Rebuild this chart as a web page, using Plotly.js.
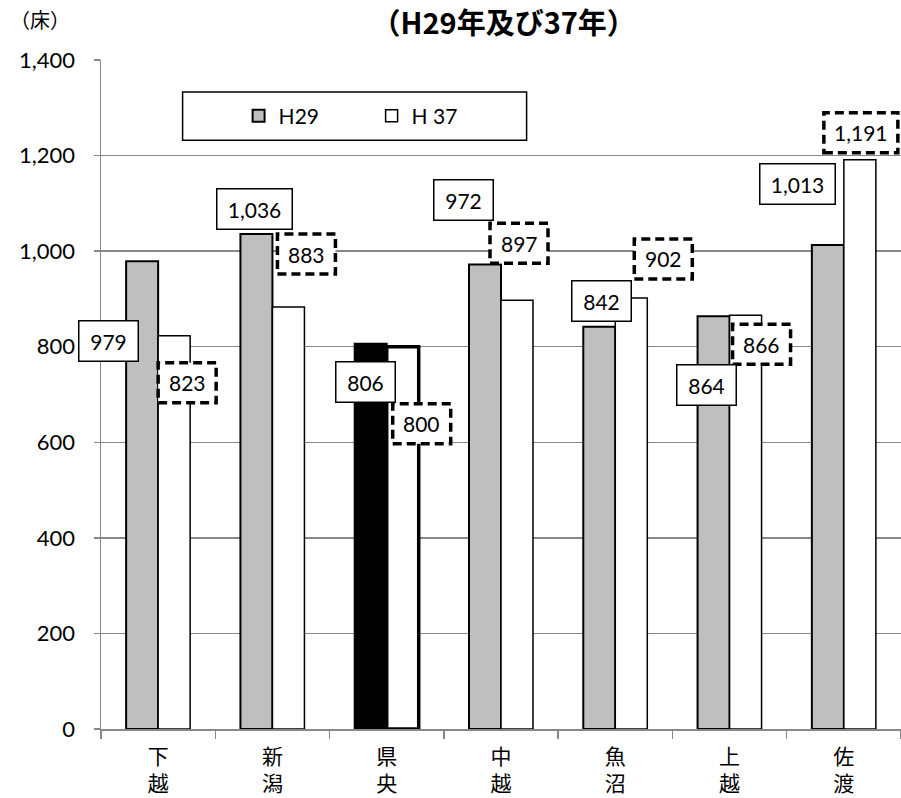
<!DOCTYPE html>
<html><head><meta charset="utf-8">
<script src="https://cdn.plot.ly/plotly-3.0.1.min.js"></script>
<style>body{margin:0;background:#fff}#c{width:901px;height:798px}</style>
</head><body><div id="c"></div>
<script>
const categories = ['下越','新潟','県央','中越','魚沼','上越','佐渡'];
const tickLabels = ['下<br>越','新<br>潟','県<br>央','中<br>越','魚<br>沼','上<br>越','佐<br>渡'];
const h29 = [979, 1036, 806, 972, 842, 864, 1013];
const h37 = [823, 883, 800, 897, 902, 866, 1191];
const yTicks = [0,200,400,600,800,1000,1200,1400];

// label placement (pixel offsets from category centre / value point) — styling only
const h29Off = [[-50,-80],[-18,25],[-21,-38],[-38,65],[-14,26],[-23,-69],[-46,61]];
const h37Off = [[29,-47],[34,53],[35,-77],[18,57],[48,39],[32,-29],[17,27]];

const fmt = v => v.toLocaleString('en-US');
const numFont = {family:'Lato, "Open Sans", sans-serif', size:21, color:'#000'};

const h29Colors = categories.map(c => c==='県央' ? '#000000' : '#bfbfbf');
const h37Widths = categories.map(c => c==='県央' ? 3.5 : 1.5);

const traces = [
  {type:'bar', name:'H29', x:categories, y:h29,
   marker:{color:h29Colors, line:{color:'#000', width:2}}, hoverinfo:'skip'},
  {type:'bar', name:'H 37', x:categories, y:h37,
   marker:{color:'#ffffff', line:{color:'#000', width:h37Widths}}, hoverinfo:'skip'}
];

const annotations = [];
const shapes = [];
const boxW = t => t.length > 3 ? 74 : 58;
categories.forEach((c,i) => {
  const t1 = fmt(h29[i]);
  annotations.push({x:c, y:h29[i], xref:'x', yref:'y', text:t1, showarrow:false,
    xanchor:'center', yanchor:'middle',
    xshift:h29Off[i][0], yshift:h29Off[i][1], font:numFont,
    bgcolor:'#fff', bordercolor:'#000', borderwidth:1.5, borderpad:0,
    width:boxW(t1), height:39});
  const t2 = fmt(h37[i]);
  const w = boxW(t2), hgt = 40;
  shapes.push({type:'rect', xref:'x', yref:'y', xsizemode:'pixel', ysizemode:'pixel',
    xanchor:c, yanchor:h37[i],
    x0:h37Off[i][0]-w/2, x1:h37Off[i][0]+w/2,
    y0:h37Off[i][1]-hgt/2, y1:h37Off[i][1]+hgt/2,
    fillcolor:'#fff', line:{color:'#000', width:3.5, dash:'9px,5px'}, layer:'above'});
  annotations.push({x:c, y:h37[i], xref:'x', yref:'y', text:t2, showarrow:false,
    xanchor:'center', yanchor:'middle',
    xshift:h37Off[i][0], yshift:h37Off[i][1], font:numFont});
});

annotations.push({xref:'paper', yref:'paper', x:-0.076, y:1.06, xanchor:'center', yanchor:'middle',
  text:'（床）', showarrow:false,
  font:{family:'"Noto Sans CJK JP", sans-serif', size:20, color:'#000'}});

// legend frame
shapes.push({type:'rect', xref:'paper', yref:'paper', x0:0.102, x1:0.532, y0:0.880, y1:0.952,
  fillcolor:'#fff', line:{color:'#000', width:1.5}, layer:'below'});

const layout = {
  width:901, height:798,
  margin:{l:101, r:0, t:60, b:69},
  paper_bgcolor:'#fff', plot_bgcolor:'#fff',
  barmode:'group', bargap:0.44, bargroupgap:0,
  showlegend:true,
  legend:{orientation:'h', x:0.172, y:0.916, xanchor:'left', yanchor:'middle',
    bgcolor:'rgba(0,0,0,0)', borderwidth:0, entrywidth:88, entrywidthmode:'pixels',
    font:{family:'Lato, "Open Sans", sans-serif', size:21, color:'#000'}},
  title:{text:'<b>（H29年及び37年）</b>', xref:'container', x:0.559, xanchor:'center',
    y:0.970, yanchor:'middle',
    font:{family:'"Noto Sans CJK JP", sans-serif', size:29, color:'#000'}},
  xaxis:{type:'category', range:[-0.5, 6.5], autorange:false,
    tickmode:'array', tickvals:categories, ticktext:tickLabels,
    tickson:'boundaries', ticks:'outside', ticklen:8, tickcolor:'#888', tickwidth:1.5,
    showline:true, linecolor:'#888', linewidth:1.5, showgrid:false,
    ticklabelstandoff:8,
    tickfont:{family:'"Noto Sans CJK JP", sans-serif', size:21, color:'#000'}},
  yaxis:{range:[0,1400], autorange:false, tickmode:'array', tickvals:yTicks, ticktext:yTicks.map(fmt),
    ticks:'outside', ticklen:6, tickcolor:'#888', tickwidth:1.5,
    showline:true, linecolor:'#888', linewidth:1.5,
    showgrid:true, gridcolor:'#888', gridwidth:1.5, zeroline:false,
    ticklabelstandoff:14,
    tickfont:{family:'Lato, "Open Sans", sans-serif', size:22, color:'#000'}},
  shapes:shapes, annotations:annotations
};
Plotly.newPlot('c', traces, layout, {staticPlot:true, displayModeBar:false});
</script></body></html>
